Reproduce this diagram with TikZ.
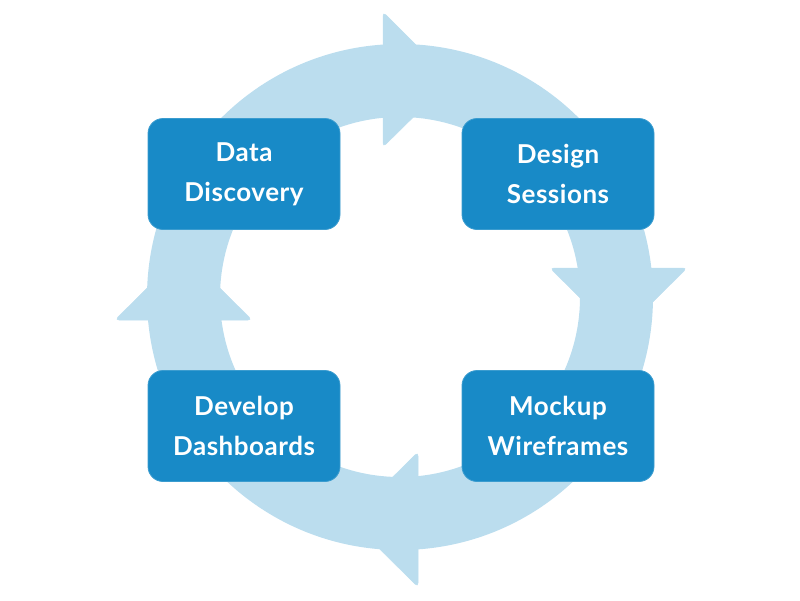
\documentclass[tikz,border=0pt]{standalone}
\usepackage{fontspec}
\setmainfont{Lato}[LetterSpace=2]
\definecolor{ringblue}{RGB}{187,221,238}
\definecolor{boxblue}{RGB}{24,138,199}
\tikzset{
  stage/.style={draw=boxblue!85!white, line width=0.8pt, fill=boxblue, rounded corners=15pt,
    minimum width=192pt, minimum height=111pt, align=center, text=white,
    font=\fontsize{26}{40}\selectfont\bfseries, inner sep=0pt},
  barb/.style={fill=ringblue, draw=ringblue, line width=0.5pt, rounded corners=4pt}
}
\begin{document}
\begin{tikzpicture}[x=1pt,y=-1pt]
\useasboundingbox (0,0) rectangle (800,600);
\coordinate (c) at (400,297);
% ring
\fill[ringblue, even odd rule] (c) circle[radius=253] (c) circle[radius=180];
% arrowheads (clockwise)
\fill[barb] (383,12) -- (451,80) -- (383,147) -- cycle;
\fill[barb] (687,268) -- (618.5,336) -- (550,268) -- cycle;
\fill[barb] (418,587) -- (350,519.5) -- (418,452) -- cycle;
\fill[barb] (115,320) -- (183.5,252) -- (252,320) -- cycle;
% stages
\node[stage] (dd) at (244,174) {Data\\Discovery};
\node[stage] (ds) at (558,174) {Design\\Sessions};
\node[stage] (dev) at (244,426) {Develop\\Dashboards};
\node[stage] (mw) at (558,426) {Mockup\\Wireframes};
\end{tikzpicture}
\end{document}
